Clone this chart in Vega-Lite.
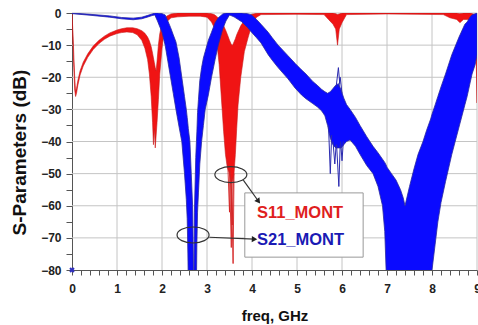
{
  "$schema": "https://vega.github.io/schema/vega-lite/v6.json",
  "autosize": {"type": "none"},
  "padding": {"left": 72, "top": 13, "right": 1, "bottom": 55},
  "width": 405,
  "height": 257,
  "background": "white",
  "config": {"view": {"stroke": null}, "font": "Liberation Sans"},
  "datasets": {
    "gridlines": [
      {"g":"v1","freq":1,"db":-80},{"g":"v1","freq":1,"db":0},
      {"g":"v2","freq":2,"db":-80},{"g":"v2","freq":2,"db":0},
      {"g":"v3","freq":3,"db":-80},{"g":"v3","freq":3,"db":0},
      {"g":"v4","freq":4,"db":-80},{"g":"v4","freq":4,"db":0},
      {"g":"v5","freq":5,"db":-80},{"g":"v5","freq":5,"db":0},
      {"g":"v6","freq":6,"db":-80},{"g":"v6","freq":6,"db":0},
      {"g":"v7","freq":7,"db":-80},{"g":"v7","freq":7,"db":0},
      {"g":"v8","freq":8,"db":-80},{"g":"v8","freq":8,"db":0},
      {"g":"v9","freq":9,"db":-80},{"g":"v9","freq":9,"db":0},
      {"g":"h70","freq":0,"db":-70},{"g":"h70","freq":9,"db":-70},
      {"g":"h60","freq":0,"db":-60},{"g":"h60","freq":9,"db":-60},
      {"g":"h50","freq":0,"db":-50},{"g":"h50","freq":9,"db":-50},
      {"g":"h40","freq":0,"db":-40},{"g":"h40","freq":9,"db":-40},
      {"g":"h30","freq":0,"db":-30},{"g":"h30","freq":9,"db":-30},
      {"g":"h20","freq":0,"db":-20},{"g":"h20","freq":9,"db":-20},
      {"g":"h10","freq":0,"db":-10},{"g":"h10","freq":9,"db":-10},
      {"g":"h0","freq":0,"db":0},{"g":"h0","freq":9,"db":0}
    ],
    "bands": [
      {"series":"S11","freq":0,"lo":-0.5,"hi":0},
      {"series":"S11","freq":0.02,"lo":-9,"hi":-6},
      {"series":"S11","freq":0.04,"lo":-17,"hi":-13},
      {"series":"S11","freq":0.06,"lo":-24,"hi":-20},
      {"series":"S11","freq":0.08,"lo":-26,"hi":-24.5},
      {"series":"S11","freq":0.1,"lo":-25,"hi":-23.5},
      {"series":"S11","freq":0.13,"lo":-22.5,"hi":-21},
      {"series":"S11","freq":0.18,"lo":-19.3,"hi":-18},
      {"series":"S11","freq":0.25,"lo":-16.5,"hi":-15.3},
      {"series":"S11","freq":0.35,"lo":-13.8,"hi":-12.7},
      {"series":"S11","freq":0.47,"lo":-11.4,"hi":-10.3},
      {"series":"S11","freq":0.6,"lo":-9.5,"hi":-8.5},
      {"series":"S11","freq":0.72,"lo":-8.2,"hi":-7.2},
      {"series":"S11","freq":0.84,"lo":-7.2,"hi":-6.2},
      {"series":"S11","freq":1.0,"lo":-6.4,"hi":-5.3},
      {"series":"S11","freq":1.1,"lo":-6.1,"hi":-4.9},
      {"series":"S11","freq":1.22,"lo":-5.9,"hi":-4.6},
      {"series":"S11","freq":1.35,"lo":-6.1,"hi":-4.6},
      {"series":"S11","freq":1.45,"lo":-6.8,"hi":-4.9},
      {"series":"S11","freq":1.55,"lo":-8.5,"hi":-5.5},
      {"series":"S11","freq":1.62,"lo":-11,"hi":-6.3},
      {"series":"S11","freq":1.68,"lo":-14.5,"hi":-7.5},
      {"series":"S11","freq":1.72,"lo":-19,"hi":-8.7},
      {"series":"S11","freq":1.76,"lo":-26,"hi":-10.5},
      {"series":"S11","freq":1.79,"lo":-34,"hi":-12.5},
      {"series":"S11","freq":1.81,"lo":-41,"hi":-14},
      {"series":"S11","freq":1.83,"lo":-36,"hi":-15.5},
      {"series":"S11","freq":1.85,"lo":-42,"hi":-17},
      {"series":"S11","freq":1.87,"lo":-38,"hi":-18},
      {"series":"S11","freq":1.89,"lo":-34,"hi":-15},
      {"series":"S11","freq":1.92,"lo":-27,"hi":-10},
      {"series":"S11","freq":1.95,"lo":-19,"hi":-6.5},
      {"series":"S11","freq":2.0,"lo":-11,"hi":-3.2},
      {"series":"S11","freq":2.05,"lo":-5.5,"hi":-1.8},
      {"series":"S11","freq":2.1,"lo":-2.8,"hi":-1},
      {"series":"S11","freq":2.2,"lo":-1.5,"hi":-0.3},
      {"series":"S11","freq":2.35,"lo":-1.2,"hi":0},
      {"series":"S11","freq":2.6,"lo":-1,"hi":0},
      {"series":"S11","freq":2.85,"lo":-1,"hi":0},
      {"series":"S11","freq":3.0,"lo":-1.3,"hi":0},
      {"series":"S11","freq":3.1,"lo":-2.8,"hi":-0.2},
      {"series":"S11","freq":3.16,"lo":-4.5,"hi":-0.5},
      {"series":"S11","freq":3.21,"lo":-7.8,"hi":-1},
      {"series":"S11","freq":3.27,"lo":-16,"hi":-1.8},
      {"series":"S11","freq":3.33,"lo":-28.6,"hi":-3},
      {"series":"S11","freq":3.37,"lo":-37,"hi":-4},
      {"series":"S11","freq":3.41,"lo":-44,"hi":-5.2},
      {"series":"S11","freq":3.45,"lo":-48,"hi":-6.6},
      {"series":"S11","freq":3.5,"lo":-50,"hi":-8.5},
      {"series":"S11","freq":3.54,"lo":-53,"hi":-9.8},
      {"series":"S11","freq":3.57,"lo":-52,"hi":-10},
      {"series":"S11","freq":3.6,"lo":-50,"hi":-9},
      {"series":"S11","freq":3.63,"lo":-44,"hi":-8},
      {"series":"S11","freq":3.66,"lo":-36,"hi":-6.8},
      {"series":"S11","freq":3.69,"lo":-28.6,"hi":-5.8},
      {"series":"S11","freq":3.75,"lo":-20,"hi":-4},
      {"series":"S11","freq":3.83,"lo":-12,"hi":-2.3},
      {"series":"S11","freq":3.91,"lo":-7.8,"hi":-1.1},
      {"series":"S11","freq":4.0,"lo":-3.5,"hi":-0.4},
      {"series":"S11","freq":4.1,"lo":-1.3,"hi":-0.1},
      {"series":"S11","freq":4.2,"lo":-0.5,"hi":0},
      {"series":"S11","freq":5.0,"lo":-0.4,"hi":0},
      {"series":"S11","freq":5.6,"lo":-0.5,"hi":0},
      {"series":"S11","freq":5.7,"lo":-2,"hi":0},
      {"series":"S11","freq":5.8,"lo":-3.5,"hi":0},
      {"series":"S11","freq":5.86,"lo":-5,"hi":-0.2},
      {"series":"S11","freq":5.9,"lo":-10,"hi":-0.5},
      {"series":"S11","freq":5.94,"lo":-5,"hi":-0.3},
      {"series":"S11","freq":6.0,"lo":-3,"hi":0},
      {"series":"S11","freq":6.1,"lo":-0.5,"hi":0},
      {"series":"S11","freq":7.0,"lo":-0.3,"hi":0},
      {"series":"S11","freq":8.25,"lo":-0.5,"hi":0},
      {"series":"S11","freq":8.4,"lo":-1.5,"hi":0},
      {"series":"S11","freq":8.55,"lo":-2,"hi":0},
      {"series":"S11","freq":8.62,"lo":-3,"hi":-0.2},
      {"series":"S11","freq":8.7,"lo":-2,"hi":0},
      {"series":"S11","freq":8.85,"lo":-2,"hi":0},
      {"series":"S11","freq":8.95,"lo":-5,"hi":-0.5},
      {"series":"S11","freq":8.98,"lo":-12,"hi":-2},
      {"series":"S11","freq":9.0,"lo":-28,"hi":-6},

      {"series":"S21","freq":0,"lo":-0.2,"hi":0},
      {"series":"S21","freq":0.4,"lo":-0.7,"hi":-0.4},
      {"series":"S21","freq":0.84,"lo":-1.3,"hi":-0.9},
      {"series":"S21","freq":1.1,"lo":-1.8,"hi":-1.4},
      {"series":"S21","freq":1.36,"lo":-2.1,"hi":-1.6},
      {"series":"S21","freq":1.55,"lo":-1.8,"hi":-1.3},
      {"series":"S21","freq":1.67,"lo":-1.3,"hi":-0.8},
      {"series":"S21","freq":1.78,"lo":-0.8,"hi":-0.3},
      {"series":"S21","freq":1.84,"lo":-0.6,"hi":0},
      {"series":"S21","freq":1.9,"lo":-2.5,"hi":0},
      {"series":"S21","freq":2.0,"lo":-6,"hi":-0.2},
      {"series":"S21","freq":2.07,"lo":-10,"hi":-0.6},
      {"series":"S21","freq":2.13,"lo":-15,"hi":-2.5},
      {"series":"S21","freq":2.19,"lo":-20,"hi":-4.5},
      {"series":"S21","freq":2.25,"lo":-25,"hi":-6.8},
      {"series":"S21","freq":2.31,"lo":-30,"hi":-9},
      {"series":"S21","freq":2.38,"lo":-35.5,"hi":-14},
      {"series":"S21","freq":2.44,"lo":-40,"hi":-20},
      {"series":"S21","freq":2.5,"lo":-50,"hi":-26},
      {"series":"S21","freq":2.54,"lo":-58,"hi":-30},
      {"series":"S21","freq":2.56,"lo":-64,"hi":-32.5},
      {"series":"S21","freq":2.575,"lo":-75,"hi":-34.5},
      {"series":"S21","freq":2.585,"lo":-85,"hi":-36},
      {"series":"S21","freq":2.62,"lo":-85,"hi":-40},
      {"series":"S21","freq":2.65,"lo":-85,"hi":-50},
      {"series":"S21","freq":2.68,"lo":-85,"hi":-60},
      {"series":"S21","freq":2.695,"lo":-85,"hi":-75},
      {"series":"S21","freq":2.7,"lo":-85,"hi":-85},
      {"series":"S21","freq":2.71,"lo":-85,"hi":-85},
      {"series":"S21","freq":2.72,"lo":-85,"hi":-62},
      {"series":"S21","freq":2.75,"lo":-85,"hi":-45},
      {"series":"S21","freq":2.765,"lo":-85,"hi":-40},
      {"series":"S21","freq":2.775,"lo":-72,"hi":-37},
      {"series":"S21","freq":2.79,"lo":-62,"hi":-31},
      {"series":"S21","freq":2.81,"lo":-56,"hi":-27},
      {"series":"S21","freq":2.84,"lo":-47,"hi":-21},
      {"series":"S21","freq":2.88,"lo":-40,"hi":-17},
      {"series":"S21","freq":2.92,"lo":-35,"hi":-14},
      {"series":"S21","freq":2.96,"lo":-30,"hi":-12},
      {"series":"S21","freq":3.03,"lo":-25.5,"hi":-8.5},
      {"series":"S21","freq":3.1,"lo":-20,"hi":-6},
      {"series":"S21","freq":3.18,"lo":-14.5,"hi":-3},
      {"series":"S21","freq":3.25,"lo":-10,"hi":-1.5},
      {"series":"S21","freq":3.35,"lo":-5,"hi":-0.3},
      {"series":"S21","freq":3.42,"lo":-2.5,"hi":0},
      {"series":"S21","freq":3.5,"lo":-0.6,"hi":0},
      {"series":"S21","freq":3.6,"lo":-1.2,"hi":0},
      {"series":"S21","freq":3.77,"lo":-2.7,"hi":0},
      {"series":"S21","freq":3.9,"lo":-4.5,"hi":-0.2},
      {"series":"S21","freq":3.99,"lo":-6,"hi":-0.6},
      {"series":"S21","freq":4.1,"lo":-7.7,"hi":-2},
      {"series":"S21","freq":4.2,"lo":-9.3,"hi":-3.5},
      {"series":"S21","freq":4.36,"lo":-13,"hi":-6},
      {"series":"S21","freq":4.45,"lo":-14.7,"hi":-7.7},
      {"series":"S21","freq":4.58,"lo":-17,"hi":-10},
      {"series":"S21","freq":4.8,"lo":-20.5,"hi":-13.3},
      {"series":"S21","freq":4.96,"lo":-23.4,"hi":-15.7},
      {"series":"S21","freq":5.1,"lo":-25.5,"hi":-17.7},
      {"series":"S21","freq":5.2,"lo":-26.7,"hi":-19},
      {"series":"S21","freq":5.35,"lo":-28.2,"hi":-21.3},
      {"series":"S21","freq":5.45,"lo":-29.2,"hi":-22.5},
      {"series":"S21","freq":5.55,"lo":-30.5,"hi":-23.8},
      {"series":"S21","freq":5.62,"lo":-32,"hi":-24.5},
      {"series":"S21","freq":5.68,"lo":-35,"hi":-25},
      {"series":"S21","freq":5.74,"lo":-39,"hi":-24.5},
      {"series":"S21","freq":5.8,"lo":-41,"hi":-23.5},
      {"series":"S21","freq":5.86,"lo":-42,"hi":-22.5},
      {"series":"S21","freq":5.92,"lo":-42,"hi":-22},
      {"series":"S21","freq":5.98,"lo":-42,"hi":-24},
      {"series":"S21","freq":6.04,"lo":-41,"hi":-26.5},
      {"series":"S21","freq":6.1,"lo":-40,"hi":-28.5},
      {"series":"S21","freq":6.18,"lo":-39.5,"hi":-30},
      {"series":"S21","freq":6.3,"lo":-41.5,"hi":-32.5},
      {"series":"S21","freq":6.4,"lo":-44,"hi":-35},
      {"series":"S21","freq":6.55,"lo":-47.5,"hi":-38.5},
      {"series":"S21","freq":6.69,"lo":-50,"hi":-41.5},
      {"series":"S21","freq":6.8,"lo":-54,"hi":-43.5},
      {"series":"S21","freq":6.9,"lo":-60,"hi":-45.5},
      {"series":"S21","freq":6.95,"lo":-68,"hi":-46.5},
      {"series":"S21","freq":6.98,"lo":-80,"hi":-47.3},
      {"series":"S21","freq":7.0,"lo":-85,"hi":-48},
      {"series":"S21","freq":7.1,"lo":-85,"hi":-50},
      {"series":"S21","freq":7.2,"lo":-85,"hi":-52},
      {"series":"S21","freq":7.3,"lo":-85,"hi":-55},
      {"series":"S21","freq":7.36,"lo":-85,"hi":-57.5},
      {"series":"S21","freq":7.4,"lo":-85,"hi":-60},
      {"series":"S21","freq":7.45,"lo":-85,"hi":-57},
      {"series":"S21","freq":7.5,"lo":-85,"hi":-54},
      {"series":"S21","freq":7.6,"lo":-85,"hi":-48.5},
      {"series":"S21","freq":7.69,"lo":-85,"hi":-44},
      {"series":"S21","freq":7.8,"lo":-85,"hi":-40},
      {"series":"S21","freq":7.88,"lo":-85,"hi":-36.5},
      {"series":"S21","freq":7.97,"lo":-85,"hi":-33},
      {"series":"S21","freq":8.0,"lo":-80,"hi":-31.5},
      {"series":"S21","freq":8.07,"lo":-72,"hi":-28.6},
      {"series":"S21","freq":8.13,"lo":-65,"hi":-26},
      {"series":"S21","freq":8.2,"lo":-59,"hi":-23},
      {"series":"S21","freq":8.3,"lo":-52.5,"hi":-19},
      {"series":"S21","freq":8.44,"lo":-44,"hi":-13},
      {"series":"S21","freq":8.6,"lo":-35.5,"hi":-7.5},
      {"series":"S21","freq":8.73,"lo":-28.6,"hi":-3.5},
      {"series":"S21","freq":8.78,"lo":-26,"hi":-2.8},
      {"series":"S21","freq":8.85,"lo":-21.5,"hi":-1.2},
      {"series":"S21","freq":8.89,"lo":-19,"hi":-0.6},
      {"series":"S21","freq":8.96,"lo":-16,"hi":-0.2},
      {"series":"S21","freq":9.0,"lo":-13,"hi":0}
    ],
    "spikes": [
      {"series":"S11","trace":"a","freq":3.46,"db":-46},
      {"series":"S11","trace":"a","freq":3.5,"db":-62},
      {"series":"S11","trace":"a","freq":3.52,"db":-49},
      {"series":"S11","trace":"b","freq":3.5,"db":-49},
      {"series":"S11","trace":"b","freq":3.54,"db":-73},
      {"series":"S11","trace":"b","freq":3.56,"db":-51},
      {"series":"S11","trace":"c","freq":3.54,"db":-52},
      {"series":"S11","trace":"c","freq":3.58,"db":-78},
      {"series":"S11","trace":"c","freq":3.6,"db":-50},
      {"series":"S11","trace":"d","freq":3.52,"db":-50},
      {"series":"S11","trace":"d","freq":3.56,"db":-66},
      {"series":"S11","trace":"d","freq":3.59,"db":-50},
      {"series":"S21","trace":"e","freq":5.7,"db":-35},
      {"series":"S21","trace":"e","freq":5.74,"db":-50},
      {"series":"S21","trace":"e","freq":5.77,"db":-38},
      {"series":"S21","trace":"f","freq":5.8,"db":-40},
      {"series":"S21","trace":"f","freq":5.84,"db":-47},
      {"series":"S21","trace":"f","freq":5.87,"db":-41},
      {"series":"S21","trace":"g","freq":5.88,"db":-41},
      {"series":"S21","trace":"g","freq":5.93,"db":-54},
      {"series":"S21","trace":"g","freq":5.96,"db":-41},
      {"series":"S21","trace":"h","freq":5.97,"db":-40},
      {"series":"S21","trace":"h","freq":6.0,"db":-46},
      {"series":"S21","trace":"h","freq":6.03,"db":-40},
      {"series":"S21","trace":"i","freq":5.87,"db":-23},
      {"series":"S21","trace":"i","freq":5.92,"db":-17},
      {"series":"S21","trace":"i","freq":5.95,"db":-22},
      {"series":"S21","trace":"j","freq":5.93,"db":-23},
      {"series":"S21","trace":"j","freq":5.96,"db":-20},
      {"series":"S21","trace":"j","freq":6.0,"db":-25}
    ]
  },
  "encoding": {
    "x": {
      "type": "quantitative",
      "scale": {"domain": [0, 9], "nice": false, "zero": false},
      "axis": {
        "title": "freq, GHz",
        "grid": false,
        "values": [0,0.2,0.4,0.6,0.8,1,1.2,1.4,1.6,1.8,2,2.2,2.4,2.6,2.8,3,3.2,3.4,3.6,3.8,4,4.2,4.4,4.6,4.8,5,5.2,5.4,5.6,5.8,6,6.2,6.4,6.6,6.8,7,7.2,7.4,7.6,7.8,8,8.2,8.4,8.6,8.8,9],
        "labelExpr": "round(datum.value) == datum.value ? format(datum.value, 'd') : ''",
        "labelFont": "Liberation Sans", "labelFontWeight": "bold", "labelFontSize": 12, "labelColor": "#222",
        "labelPadding": 8, "labelFlush": false, "labelOverlap": false,
        "tickSize": 5, "tickColor": "#555", "domainColor": "#555",
        "titleFont": "Liberation Sans", "titleFontWeight": "bold", "titleFontSize": 15, "titleColor": "#111",
        "titleY": 50, "titleBaseline": "alphabetic"
      }
    },
    "y": {
      "type": "quantitative",
      "scale": {"domain": [-80, 0], "nice": false, "zero": false},
      "axis": {
        "title": "S-Parameters (dB)",
        "grid": false,
        "values": [-80,-75,-70,-65,-60,-55,-50,-45,-40,-35,-30,-25,-20,-15,-10,-5,0],
        "labelExpr": "datum.value % 10 == 0 ? format(datum.value, 'd') : ''",
        "labelFont": "Liberation Sans", "labelFontWeight": "bold", "labelFontSize": 12, "labelColor": "#222",
        "labelPadding": 5, "labelFlush": false, "labelOverlap": false,
        "tickSize": 6,
        "tickColor": "#555", "domainColor": "#555",
        "titleFont": "Liberation Sans", "titleFontWeight": "bold", "titleFontSize": 19, "titleColor": "#111",
        "titleX": -53, "titleY": 139, "titleBaseline": "middle", "titleAngle": -90
      }
    }
  },
  "layer": [
    {
      "data": {"name": "gridlines"},
      "mark": {"type": "line", "color": "#c4c4c4", "strokeWidth": 1, "clip": false},
      "encoding": {
        "x": {"field": "freq", "type": "quantitative"},
        "y": {"field": "db", "type": "quantitative"},
        "detail": {"field": "g"}
      }
    },
    {
      "data": {"name": "bands"},
      "transform": [{"filter": "datum.series == 'S11'"}],
      "mark": {"type": "area", "color": "#f01414", "stroke": "#c81a1a", "strokeWidth": 0.6, "clip": true, "opacity": 1},
      "encoding": {
        "x": {"field": "freq", "type": "quantitative"},
        "y": {"field": "lo", "type": "quantitative"},
        "y2": {"field": "hi"}
      }
    },
    {
      "data": {"name": "spikes"},
      "transform": [{"filter": "datum.series == 'S11'"}],
      "mark": {"type": "line", "color": "#d42020", "strokeWidth": 0.9, "clip": true},
      "encoding": {
        "x": {"field": "freq", "type": "quantitative"},
        "y": {"field": "db", "type": "quantitative"},
        "detail": {"field": "trace"}
      }
    },
    {
      "data": {"name": "bands"},
      "transform": [{"filter": "datum.series == 'S21'"}],
      "mark": {"type": "area", "color": "#0a0aff", "stroke": "#2828a0", "strokeWidth": 0.8, "clip": true, "opacity": 1},
      "encoding": {
        "x": {"field": "freq", "type": "quantitative"},
        "y": {"field": "lo", "type": "quantitative"},
        "y2": {"field": "hi"}
      }
    },
    {
      "data": {"name": "spikes"},
      "transform": [{"filter": "datum.series == 'S21'"}],
      "mark": {"type": "line", "color": "#2a2ab0", "strokeWidth": 1, "clip": true},
      "encoding": {
        "x": {"field": "freq", "type": "quantitative"},
        "y": {"field": "db", "type": "quantitative"},
        "detail": {"field": "trace"}
      }
    },
    {
      "data": {"values": [{"x1": 3.84, "x2": 6.47, "y1": -56, "y2": -76}]},
      "mark": {"type": "rect", "fill": "white", "stroke": "#999999", "strokeWidth": 1},
      "encoding": {
        "x": {"field": "x1", "type": "quantitative"},
        "x2": {"field": "x2"},
        "y": {"field": "y1", "type": "quantitative"},
        "y2": {"field": "y2"}
      }
    },
    {
      "data": {"values": [
        {"freq": 4.11, "db": -62.3, "label": "S11_MONT", "series": "S11"},
        {"freq": 4.11, "db": -70.7, "label": "S21_MONT", "series": "S21"}
      ]},
      "mark": {"type": "text", "align": "left", "baseline": "middle", "font": "Liberation Sans", "fontWeight": "bold", "fontSize": 16.5},
      "encoding": {
        "x": {"field": "freq", "type": "quantitative"},
        "y": {"field": "db", "type": "quantitative"},
        "text": {"field": "label"},
        "color": {"field": "series", "type": "nominal", "scale": {"domain": ["S11", "S21"], "range": ["#e01e1e", "#1a1ab4"]}, "legend": null}
      }
    },
    {
      "data": {"values": [{"freq": 3.53, "db": -50.3}, {"freq": 2.69, "db": -69.1}]},
      "mark": {"type": "point", "shape": "M-1,0A1,0.5 0 1,0 1,0A1,0.5 0 1,0 -1,0Z", "size": 1024, "filled": false, "stroke": "#333333", "strokeWidth": 1.2, "opacity": 1},
      "encoding": {
        "x": {"field": "freq", "type": "quantitative"},
        "y": {"field": "db", "type": "quantitative"}
      }
    },
    {
      "data": {"values": [
        {"f1": 3.807, "d1": -52.0, "f2": 4.144, "d2": -58.6},
        {"f1": 3.051, "d1": -69.8, "f2": 4.056, "d2": -70.4}
      ]},
      "mark": {"type": "rule", "color": "#333333", "strokeWidth": 1.2},
      "encoding": {
        "x": {"field": "f1", "type": "quantitative"},
        "y": {"field": "d1", "type": "quantitative"},
        "x2": {"field": "f2"},
        "y2": {"field": "d2"}
      }
    },
    {
      "data": {"values": [{"freq": 4.144, "db": -58.6}]},
      "mark": {"type": "point", "shape": "triangle-right", "size": 40, "filled": true, "color": "#222222", "angle": 54, "opacity": 1},
      "encoding": {
        "x": {"field": "freq", "type": "quantitative"},
        "y": {"field": "db", "type": "quantitative"}
      }
    },
    {
      "data": {"values": [{"freq": 4.056, "db": -70.4}]},
      "mark": {"type": "point", "shape": "triangle-right", "size": 40, "filled": true, "color": "#222222", "angle": 2, "opacity": 1},
      "encoding": {
        "x": {"field": "freq", "type": "quantitative"},
        "y": {"field": "db", "type": "quantitative"}
      }
    },
    {
      "data": {"values": [{"freq": 0, "db": -80}]},
      "mark": {"type": "point", "shape": "cross", "size": 30, "filled": true, "color": "#3030c0", "angle": 45, "opacity": 1, "clip": false},
      "encoding": {
        "x": {"field": "freq", "type": "quantitative"},
        "y": {"field": "db", "type": "quantitative"}
      }
    }
  ]
}
